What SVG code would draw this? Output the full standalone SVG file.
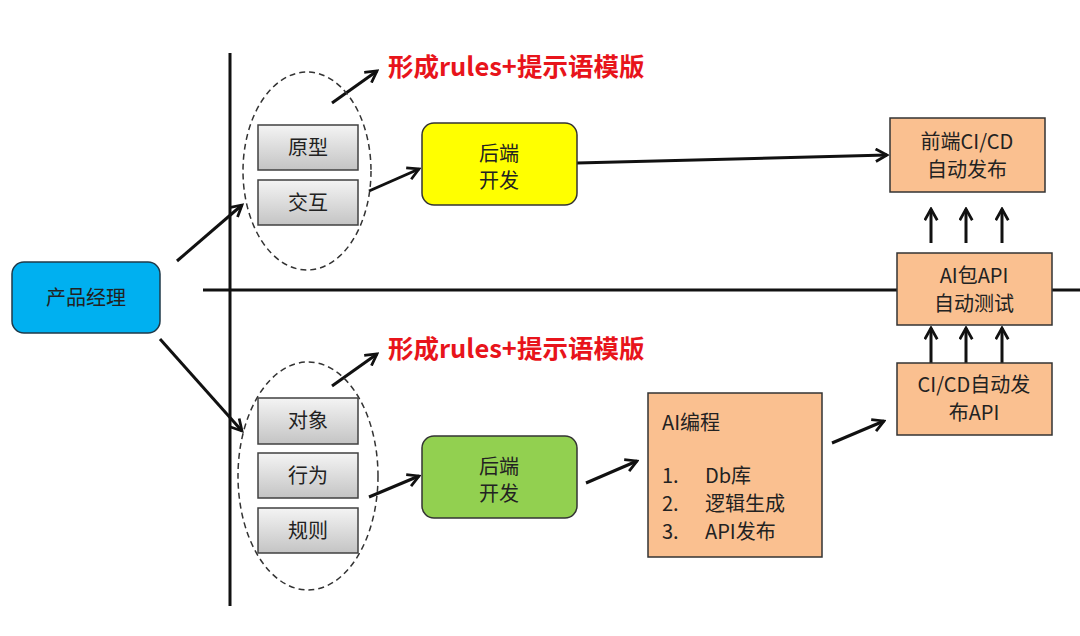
<svg xmlns="http://www.w3.org/2000/svg" width="1080" height="636" viewBox="0 0 1080 636">
<style>
.t{font-family:"Noto Sans CJK SC","Liberation Sans",sans-serif;font-size:20px;fill:#222;}
.c{text-anchor:middle;}
.red{font-family:"Noto Sans CJK SC","Liberation Sans",sans-serif;font-size:25.5px;font-weight:bold;fill:#e8141b;}
.gray{fill:url(#g);stroke:#404040;stroke-width:1.5;}
.org{fill:#FAC090;stroke:#333;stroke-width:1.5;}
.arr{stroke:#111;stroke-width:3;fill:none;marker-end:url(#ah);}
.ell{fill:none;stroke:#333;stroke-width:1.5;stroke-dasharray:6 4;}
.axis{stroke:#111;stroke-width:3;}
</style>
<defs>
<linearGradient id="g" x1="0" y1="0" x2="0" y2="1">
<stop offset="0" stop-color="#f4f4f4"/>
<stop offset="1" stop-color="#c4c4c4"/>
</linearGradient>
<marker id="ah" viewBox="0 0 12 12" refX="10" refY="6" markerWidth="5" markerHeight="5" orient="auto" markerUnits="strokeWidth">
<path d="M1,1 L10,6 L1,11" fill="none" stroke="#111" stroke-width="2.2"/>
</marker>
</defs>
<rect width="1080" height="636" fill="#fff"/>
<g id="axes">
<line class="axis" x1="230" y1="53" x2="230" y2="606"/>
<line class="axis" x1="203" y1="290" x2="1080" y2="290"/>
</g>
<g id="connectors">
<line class="arr" x1="177" y1="261" x2="242" y2="205"/>
<line class="arr" x1="160" y1="339" x2="242" y2="431"/>
<line class="arr" x1="332" y1="103" x2="377" y2="71"/>
<line class="arr" x1="332" y1="386" x2="377" y2="354"/>
<line class="arr" x1="369" y1="191" x2="419" y2="169"/>
<line class="arr" x1="369" y1="497" x2="419" y2="476"/>
<line class="arr" x1="577" y1="163" x2="887" y2="155"/>
<line class="arr" x1="586" y1="483" x2="637" y2="461"/>
<line class="arr" x1="832" y1="443" x2="884" y2="421"/>
<line class="arr" x1="931" y1="243" x2="931" y2="209"/>
<line class="arr" x1="966" y1="243" x2="966" y2="209"/>
<line class="arr" x1="1002" y1="243" x2="1002" y2="209"/>
<line class="arr" x1="931" y1="363" x2="931" y2="328"/>
<line class="arr" x1="966" y1="363" x2="966" y2="328"/>
<line class="arr" x1="1002" y1="363" x2="1002" y2="328"/>
</g>
<g id="pm">
<rect x="12" y="262" width="148" height="71" rx="12" fill="#00B0F0" stroke="#1f3a4a" stroke-width="1.5"/>
<text class="t c" x="86" y="305">产品经理</text>
</g>
<g id="top-group">
<ellipse class="ell" cx="307" cy="171" rx="64" ry="99"/>
</g>
<g id="yuanxing">
<rect class="gray" x="258" y="125" width="100" height="45"/>
<text class="t c" x="308" y="155">原型</text>
</g>
<g id="jiaohu">
<rect class="gray" x="258" y="180" width="100" height="45"/>
<text class="t c" x="308" y="210">交互</text>
</g>
<g id="label-top">
<text class="red" x="388" y="76">形成rules+提示语模版</text>
</g>
<g id="backend-top">
<rect x="422" y="123" width="155" height="82" rx="12" fill="#FFFF00" stroke="#333" stroke-width="1.5"/>
<text class="t c" x="499" y="161">后端</text>
<text class="t c" x="499" y="188">开发</text>
</g>
<g id="frontend-cicd">
<rect class="org" x="890" y="118" width="155" height="74"/>
<text class="t c" x="967" y="149">前端CI/CD</text>
<text class="t c" x="967" y="177">自动发布</text>
</g>
<g id="ai-api-test">
<rect class="org" x="897" y="253" width="155" height="72"/>
<text class="t c" x="974" y="283">AI包API</text>
<text class="t c" x="974" y="311">自动测试</text>
</g>
<g id="cicd-api">
<rect class="org" x="897" y="363" width="155" height="72"/>
<text class="t c" x="974" y="392">CI/CD自动发</text>
<text class="t c" x="974" y="420">布API</text>
</g>
<g id="bottom-group">
<ellipse class="ell" cx="308" cy="476" rx="70" ry="114"/>
</g>
<g id="duixiang">
<rect class="gray" x="258" y="398" width="100" height="46"/>
<text class="t c" x="308" y="428">对象</text>
</g>
<g id="xingwei">
<rect class="gray" x="258" y="453" width="100" height="45"/>
<text class="t c" x="308" y="483">行为</text>
</g>
<g id="guize">
<rect class="gray" x="258" y="508" width="100" height="45"/>
<text class="t c" x="308" y="538">规则</text>
</g>
<g id="label-bottom">
<text class="red" x="388" y="358">形成rules+提示语模版</text>
</g>
<g id="backend-bottom">
<rect x="422" y="436" width="155" height="82" rx="12" fill="#92D050" stroke="#333" stroke-width="1.5"/>
<text class="t c" x="499" y="474">后端</text>
<text class="t c" x="499" y="501">开发</text>
</g>
<g id="ai-coding">
<rect class="org" x="648" y="393" width="174" height="164"/>
<text class="t" x="662" y="430">AI编程</text>
<text class="t" x="662" y="483">1.</text><text class="t" x="705" y="483">Db库</text>
<text class="t" x="662" y="511">2.</text><text class="t" x="705" y="511">逻辑生成</text>
<text class="t" x="662" y="539">3.</text><text class="t" x="705" y="539">API发布</text>
</g>
</svg>
